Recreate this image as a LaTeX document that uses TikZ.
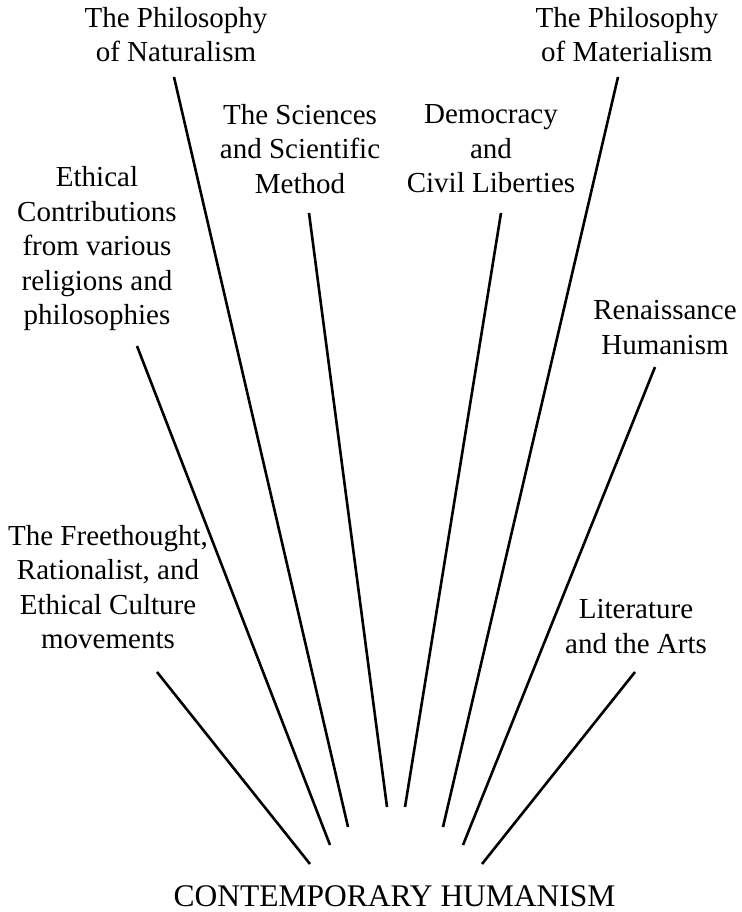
\documentclass[tikz,border=0pt]{standalone}
\usepackage{fontspec}
\setmainfont{Liberation Serif}
\begin{document}
\begin{tikzpicture}[x=1pt,y=-1pt,
	root/.style={font=\fontsize{31.5}{36}\selectfont,inner sep=0pt},
	source/.style={align=center,font=\fontsize{29}{34.5}\selectfont,inner sep=0pt},
	ray/.style={line width=2.6pt}]
			\useasboundingbox (0,0) rectangle (741,912);
			% labels
			\node[source] (natur) at (176,34.5) {The Philosophy\\of Naturalism};
			\node[source] (mater) at (627,34.5) {The Philosophy\\of Materialism};
			\node[source] (scien) at (300,148.7) {The Sciences\\and Scientific\\Method};
			\node[source] (democ) at (491,148.7) {Democracy\\and\\Civil Liberties};
			\node[source] (ethic) at (97,249) {Ethical\\Contributions\\from various\\religions and\\philosophies};
			\node[source] (renai) at (665,327.5) {Renaissance\\Humanism};
			\node[source] (freet) at (108,587) {The Freethought,\\Rationalist, and\\Ethical Culture\\movements};
			\node[source] (liter) at (636,626.5) {Literature\\and the Arts};
			\node[root] (human) at (394.6,896.5) {CONTEMPORARY HUMANISM};
			
			% ends of the rays
			\coordinate (freet-a) at (157,672);	\coordinate (freet-b) at (310,864);
			\coordinate (ethic-a) at (137,346);	\coordinate (ethic-b) at (330,845);
			\coordinate (natur-a) at (174,77);	\coordinate (natur-b) at (348,827);
			\coordinate (scien-a) at (309,213);	\coordinate (scien-b) at (387,807);
			\coordinate (democ-a) at (501,213);	\coordinate (democ-b) at (405,807);
			\coordinate (mater-a) at (618,77);	\coordinate (mater-b) at (443,827);
			\coordinate (renai-a) at (655,367);	\coordinate (renai-b) at (463,845);
			\coordinate (liter-a) at (635,672);	\coordinate (liter-b) at (482,864);
			
			\foreach \s in {freet,ethic,natur,scien,democ,mater,renai,liter}
				\draw[ray] (\s-a) -- (\s-b);
			\end{tikzpicture}
\end{document}
